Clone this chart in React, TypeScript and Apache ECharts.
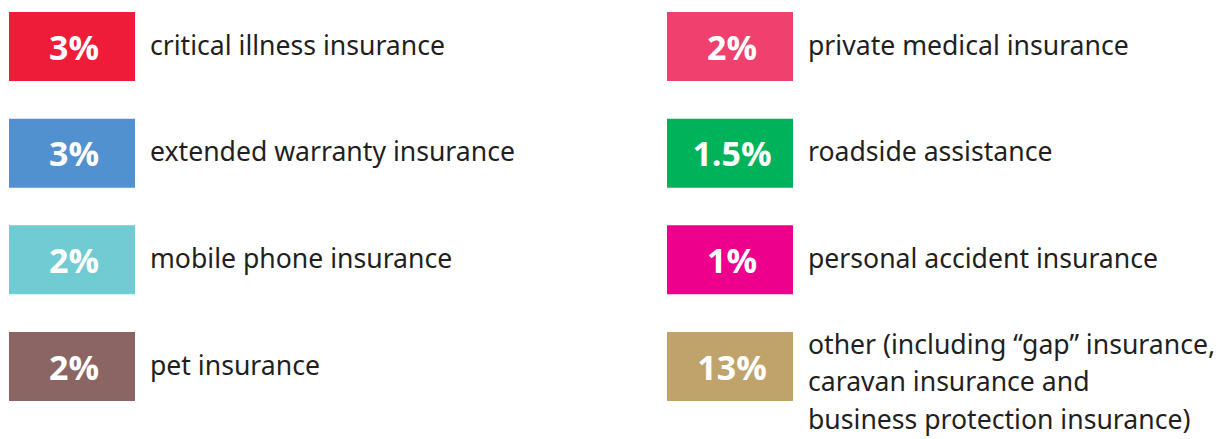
import React, { useEffect, useRef } from "react";
import * as echarts from "echarts";

const labels = [
  "critical illness insurance",
  "extended warranty insurance",
  "mobile phone insurance",
  "pet insurance",
  "private medical insurance",
  "roadside assistance",
  "personal accident insurance",
  "other (including \u201cgap\u201d insurance,\ncaravan insurance and\nbusiness protection insurance)",
];
const percents = [3, 3, 2, 2, 2, 1.5, 1, 13];
const columns = [0, 0, 0, 0, 1, 1, 1, 1];
const rows = [0, 1, 2, 3, 0, 1, 2, 3];
const colors = [
  "#ee1c39",
  "#5191cf",
  "#70cbd3",
  "#8b6464",
  "#f0406d",
  "#00b35b",
  "#ec008c",
  "#bfa36b",
];

export default function App() {
  const ref = useRef<HTMLDivElement>(null);
  useEffect(() => {
    const chart = echarts.init(ref.current!, null, { renderer: "svg" });
    const data = labels.map((l, i) => [columns[i], rows[i], percents[i], i]);
    chart.setOption({
      animation: false,
      backgroundColor: "#ffffff",
      grid: { left: 9, right: 555, top: 12, bottom: 107 },
      xAxis: { type: "value", min: 0, max: 1, show: false },
      yAxis: { type: "value", min: 0, max: 3, inverse: true, show: false },
      series: [
        {
          type: "custom",
          data,
          renderItem: (params: any, api: any) => {
            const idx = api.value(3);
            const p = api.coord([api.value(0), api.value(1)]);
            const w = 126;
            const h = 69;
            const label = labels[idx];
            const multi = label.indexOf("\n") >= 0;
            return {
              type: "group",
              children: [
                {
                  type: "rect",
                  shape: { x: p[0], y: p[1], width: w, height: h },
                  style: { fill: colors[idx] },
                },
                {
                  type: "text",
                  x: p[0] + 65,
                  y: p[1] + h / 2,
                  style: {
                    text: api.value(2) + "%",
                    fill: "#ffffff",
                    font: 'bold 34px "Open Sans"',
                    align: "center",
                    verticalAlign: "middle",
                  },
                },
                {
                  type: "text",
                  x: p[0] + 141,
                  y: multi ? p[1] - 7 : p[1] + h / 2 - 2,
                  style: {
                    text: label,
                    fill: "#231f20",
                    font: '26.6px "Noto Sans"',
                    lineHeight: 37.5,
                    align: "left",
                    verticalAlign: multi ? "top" : "middle",
                  },
                },
              ],
            };
          },
        },
      ],
    });
    return () => chart.dispose();
  }, []);
  return (
    <div
      ref={ref}
      style={{ position: "fixed", left: 0, top: 0, width: 1222, height: 439 }}
    />
  );
}
